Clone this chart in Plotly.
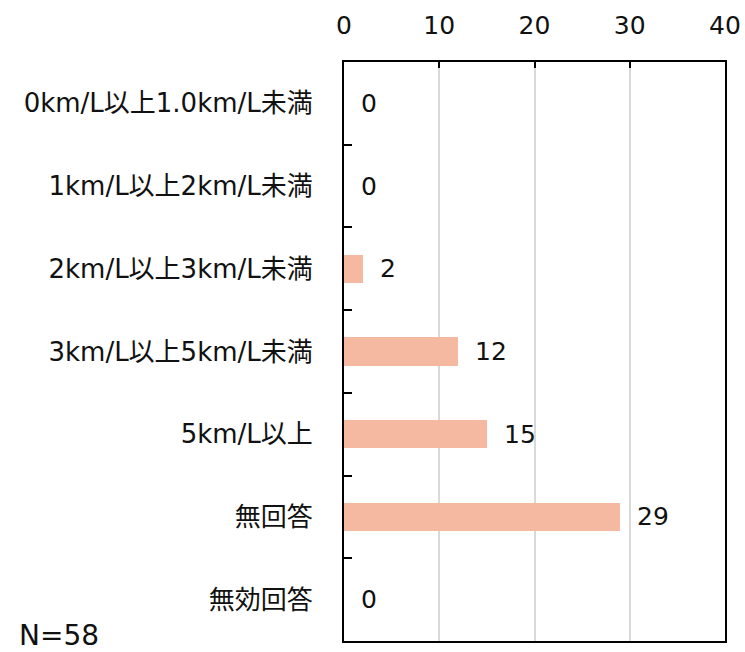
import plotly.graph_objects as go

categories = [
    "0km/L以上1.0km/L未満",
    "1km/L以上2km/L未満",
    "2km/L以上3km/L未満",
    "3km/L以上5km/L未満",
    "5km/L以上",
    "無回答",
    "無効回答",
]
counts = [0, 0, 2, 12, 15, 29, 0]
x_ticks = [0, 10, 20, 30, 40]
n_label = "N=58"

FONT = "DejaVu Sans, Noto Sans CJK JP, sans-serif"
TEXT = "#111111"
BAR_COLOR = "#F5B9A2"

fig = go.Figure()
fig.add_trace(go.Bar(
    x=counts,
    y=categories,
    orientation="h",
    marker=dict(color=BAR_COLOR, line=dict(width=0)),
    width=0.34,
    hoverinfo="skip",
))

# value labels just past the end of each bar
for cat, val in zip(categories, counts):
    fig.add_annotation(
        x=val, y=cat, text=str(val), showarrow=False,
        xanchor="left", yanchor="middle", xshift=15,
        font=dict(family=FONT, size=25, color=TEXT),
    )

# sample size note in the lower-left corner
fig.add_annotation(
    x=0, y=0, xref="paper", yref="paper", xanchor="left", yanchor="middle",
    xshift=-326, yshift=6, text=n_label, showarrow=False, borderpad=0,
    font=dict(family=FONT, size=28, color=TEXT),
)

fig.update_layout(
    width=745, height=652,
    margin=dict(l=344, r=20, t=62, b=11, autoexpand=False),
    paper_bgcolor="white", plot_bgcolor="white",
    showlegend=False,
    font=dict(family=FONT, size=25, color=TEXT),
    bargap=0,
)
fig.update_xaxes(
    side="top", range=[0, 40], tickvals=x_ticks, automargin=False,
    showgrid=True, gridcolor="#D9D9D9", gridwidth=1.5,
    showline=True, linecolor="black", linewidth=2, mirror=True,
    ticks="inside", ticklen=6, tickwidth=2, tickcolor="black",
    ticklabelstandoff=16, zeroline=False,
    tickfont=dict(family=FONT, size=25, color=TEXT),
)
fig.update_yaxes(
    categoryorder="array", categoryarray=categories,
    autorange="reversed", automargin=False,
    showgrid=False, showline=True, linecolor="black", linewidth=2, mirror=True,
    ticks="inside", tickson="boundaries", ticklen=8, tickwidth=2, tickcolor="black",
    ticklabelstandoff=24,
    tickfont=dict(family=FONT, size=26, color=TEXT),
)

fig.write_html("out.html")
